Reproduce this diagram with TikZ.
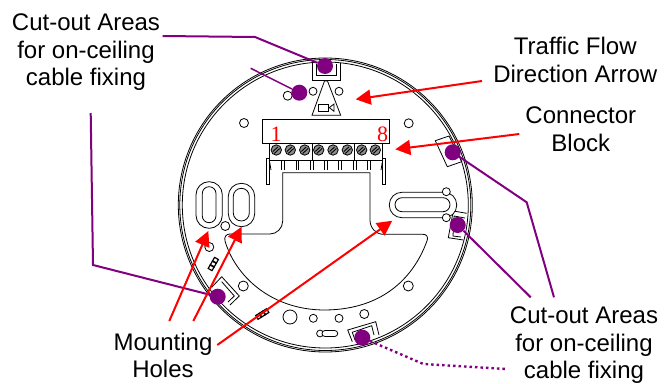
\documentclass[tikz,border=0pt]{standalone}
\usepackage{fontspec}
\setmainfont{Liberation Sans}
\newfontfamily\digitfont{Liberation Serif}
\usetikzlibrary{arrows.meta,calc}
\definecolor{cutout}{RGB}{128,0,128}
\tikzset{
  body/.style={draw=black, line width=0.8pt},
  hole/.style={body, fill=white},
  label/.style={align=center, inner sep=0pt, font=\fontsize{24}{27.5}\selectfont},
  digit/.style={inner sep=0pt, text=red, font=\digitfont\fontsize{22}{22}\selectfont},
  dot/.style={circle, fill=cutout, inner sep=0pt, minimum size=16pt},
  connect/.style={-{Triangle[length=15pt,width=15pt]}, red, line width=2pt},
  lead/.style={cutout, line width=2pt}
}

\begin{document}
\begin{tikzpicture}[x=1pt,y=-1pt]
  \useasboundingbox (0,0) rectangle (672,383);

  % Outer rim
  \foreach \r in {147,145.5,143} {
    \draw[body] (325.3,205) circle[radius=\r pt];
  }

  % Tabs round the rim
  \draw[body] (312,63) -- (312,80) -- (340.7,80) -- (340.7,63);
  \draw[body] (316.7,64) -- (316.7,75) -- (336,75) -- (336,64);
  \draw[body] (435.3,140.7) -- (449,136) -- (461.7,161.7) -- (447.3,166.7) -- cycle;
  \draw[body] (453.3,211) -- (466.7,213.3) (453.3,211) -- (448.3,237.7) -- (463.3,240);
  \draw[body] (454,216) -- (465,218) (454,216) -- (453,236) -- (461,237);
  \draw[body] (221.7,276.7) -- (239.3,296) -- (230,305);
  \draw[body] (221.7,276.7) -- (211.7,287.3);
  \draw[body] (221.7,281.7) -- (234.3,296) -- (228,302);
  \draw[body] (352.3,341.7) -- (347.7,330) -- (375.7,321.7) -- (379,335);
  \draw[body] (355,340) -- (352.3,332.3) -- (371.7,325.7) -- (374,335);

  % Cut-out in the middle of the plate
  \draw[body] (282.7,172.7) -- (370,172.7) -- (370,220)
    .. controls (370,228) and (376,234.3) .. (383.3,234.3) -- (423,234.3)
    .. controls (427,234.3) and (428,237) .. (427.3,240)
    .. controls (415,275) and (385,309.5) .. (325,310)
    .. controls (270,310) and (235,275) .. (225,241)
    .. controls (224,237) and (226,234) .. (230,234) -- (270,234)
    .. controls (277,234) and (282.7,228) .. (282.7,221) -- cycle;

  % Triangle with the camera
  \draw[body] (324.5,81) -- (327.5,81) -- (340.7,115.3) -- (312,115.3) -- cycle;
  \draw[body] (318.7,104) rectangle (328.7,111.3);
  \draw[body] (329.3,107.6) -- (334,104) -- (334,111.3) -- cycle;

  % Connector block
  \draw[body] (262.3,119) rectangle (389.7,143.3);
  \draw[body] (269.3,143.3) rectangle (382.7,160);
  \draw[body] (312,143.3) -- (312,160) (354.7,143.3) -- (354.7,160);
  \node[digit] (one) at (276,134) {1};
  \node[digit] (eight) at (382.7,134) {8};
  \foreach \x in {276.3,290.3,304.7,318.7,333,347.3,361.7,375.3} {
    \draw[body, fill=black!45] (\x,150) circle[radius=5.2pt];
    \draw[black, line width=0.9pt] (\x-3.4,151.5) -- (\x+1.5,147) (\x-2,153.5) -- (\x+3.4,148.5);
  }
  \foreach \x in {283,297.3,311.7,326,340,355,369} {
    \draw[body] (\x-1.3,160) -- (\x-1.3,170) (\x+1.3,160) -- (\x+1.3,170);
  }
  \draw[body] (266.7,158) rectangle (269.3,184);
  \draw[body] (382.7,158) rectangle (385.3,184);
  \draw[body] (269.3,160) -- (271,170) (381,170) -- (382.7,160);

  % Mounting holes
  \draw[hole, rounded corners=13pt] (196,181.7) rectangle (222.3,228.3);
  \draw[hole, rounded corners=6.8pt] (202.3,186.7) rectangle (216,222.7);
  \draw[hole, rounded corners=13pt] (228.3,183.3) rectangle (254.7,226.7);
  \draw[hole, rounded corners=8pt] (233.3,188.3) rectangle (249.3,221);

  % Long slot on the right
  \draw[hole, rounded corners=12.5pt] (389.3,192.3) rectangle (456.7,217.7);
  \draw[hole, rounded corners=7pt] (395,197.7) rectangle (450,211.7);

  % Small round holes
  \foreach \x/\y/\r in {287.7/95.7/4.5,313/91.3/4,339/91.3/4,244/123/4.5,408.7/123.3/4.5,
    446.3/191.7/4,446.3/217.7/4,225.3/226/4.5,209.3/247/4.5,243.3/286/5,290/317/7,
    313.3/318.3/4,339/318.3/4,364.3/314/4.5,408.3/286/5} {
    \draw[hole] (\x,\y) circle[radius=\r pt];
  }

  % Keyhole near the bottom
  \draw[hole] (320,333.5) circle[radius=3.4pt];
  \draw[hole, rounded corners=3pt] (322,330.5) rectangle (337.7,336.5);

  % Small chains
  \foreach \t in {-1,0,1} {
    \draw[body, line width=1.2pt, rotate around={60:(213.3,264)}] (213.3+\t*4.4-2,261.8) rectangle (213.3+\t*4.4+2,266.2);
    \draw[body, line width=1.2pt, rotate around={32:(262.3,314)}] (262.3+\t*4.4-2,311.8) rectangle (262.3+\t*4.4+2,316.2);
  }

  % Labels
  \node[label] (CutTop) at (86,52.4) {Cut-out Areas\\for on-ceiling\\cable fixing};
  \node[label] (Traffic) at (575.3,59.7) {Traffic Flow\\Direction Arrow};
  \node[label] (Connector) at (580.8,129) {Connector\\Block};
  \node[label] (CutBottom) at (584,345.4) {Cut-out Areas\\for on-ceiling\\cable fixing};
  \node[label] (Mounting) at (163,355.6) {Mounting\\Holes};

  % Purple dots and their leads
  \node[dot] (dot_top) at (325,66) {};
  \node[dot] (dot_arrow) at (299.3,92.7) {};
  \node[dot] (dot_left) at (217.7,296.7) {};
  \node[dot] (dot_upper) at (452.7,152.3) {};
  \node[dot] (dot_lower) at (457.7,225) {};
  \node[dot] (dot_bottom) at (362.3,337.7) {};

  \coordinate (top_end) at (162.7,36);
  \coordinate (top_bend) at (255,37);
  \coordinate (arrow_end) at (250.7,68.3);
  \coordinate (left_end) at (90.7,113);
  \coordinate (left_bend) at (93,265);
  \coordinate (upper_bend) at (526.7,202.3);
  \coordinate (upper_end) at (554,297.3);
  \coordinate (lower_end) at (530.7,297.3);
  \coordinate (bottom_bend) at (423.3,364);
  \coordinate (bottom_end) at (506,369);

  \draw[lead] (top_end) -- (top_bend) -- (dot_top);
  \draw[lead, line width=1.5pt] (arrow_end) -- (dot_arrow);
  \draw[lead] (left_end) -- (left_bend) -- (dot_left);
  \draw[lead] (dot_upper) -- (upper_bend) -- (upper_end);
  \draw[lead] (dot_lower) -- (lower_end);
  \draw[lead, line width=2.4pt, dash pattern=on 2.5pt off 3pt] (dot_bottom) -- (bottom_bend) -- (bottom_end);

  % Red arrows
  \coordinate (traffic_tail) at (482,81);
  \coordinate (traffic_tip) at (355.7,99.3);
  \coordinate (block_tail) at (519.3,134);
  \coordinate (block_tip) at (395.3,149.3);
  \coordinate (holeA_tail) at (169.3,321);
  \coordinate (holeA_tip) at (208.3,231);
  \coordinate (holeB_tail) at (193.3,321);
  \coordinate (holeB_tip) at (241.7,226.7);
  \coordinate (slot_tail) at (217.3,345);
  \coordinate (slot_tip) at (392.3,220.7);

  \draw[connect] (traffic_tail) -- (traffic_tip);
  \draw[connect] (block_tail) -- (block_tip);
  \draw[connect] (holeA_tail) -- (holeA_tip);
  \draw[connect] (holeB_tail) -- (holeB_tip);
  \draw[connect] (slot_tail) -- (slot_tip);
\end{tikzpicture}
\end{document}
